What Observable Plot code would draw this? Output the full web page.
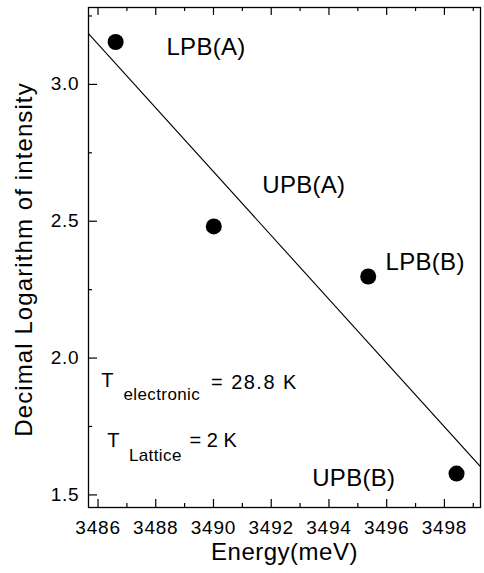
<!DOCTYPE html>
<html>
<head>
<meta charset="utf-8">
<script src="https://cdn.jsdelivr.net/npm/d3@7"></script>
<script src="https://cdn.jsdelivr.net/npm/@observablehq/plot@0.6"></script>
<style>
  html, body { margin: 0; padding: 0; background: #fff; overflow: hidden; }
  svg text { font-family: "Liberation Sans", Arial, sans-serif; }
  g[aria-label="x-axis tick label"] text, g[aria-label="y-axis tick label"] text { letter-spacing: 0.8px; }
  g[aria-description="x-title"] text { letter-spacing: 0.5px; }
  g[aria-description="y-title"] text { letter-spacing: 1.1px; }
  g[aria-description="peak-label"] text { letter-spacing: 0.3px; }
  g[aria-description="temp-value-1"] text { letter-spacing: 1.5px; }
  g[aria-description="temp-subscript"] text { letter-spacing: 0.4px; }
</style>
</head>
<body>
<div id="chart"></div>
<script>
// ---- data ----
const energy = [3486.61, 3490.01, 3495.36, 3498.42];
const logIntensity = [3.155, 2.481, 2.298, 1.578];
const peakNames = ["LPB(A)", "UPB(A)", "LPB(B)", "UPB(B)"];
const peakLabelX = [3488.37, 3491.69, 3495.96, 3493.42];
const peakLabelY = [3.136, 2.632, 2.350, 1.560];

const xTicksMajor = [3486, 3488, 3490, 3492, 3494, 3496, 3498];
const xTicksMinor = [3487, 3489, 3491, 3493, 3495, 3497, 3499];
const yTicksMajor = [1.5, 2.0, 2.5, 3.0];
const yTicksMinor = [1.75, 2.25, 2.75, 3.25];
const xDomain = [3485.67, 3499.25];
const yDomain = [1.454, 3.281];

const xLabel = "Energy(meV)";
const yLabel = "Decimal Logarithm of intensity";

const tempSymbol = ["T", "T"];
const tempSymbolX = [3486.11, 3486.32];
const tempSymbolY = [1.919, 1.698];
const tempSubscripts = ["electronic", "Lattice"];
const tempSubX = [3486.88, 3487.07];
const tempSubY = [1.865, 1.643];
const tempValues = ["= 28.8 K", "= 2 K"];
const tempValX = [3489.91, 3489.17];
const tempValY = [1.912, 1.698];

// ---- derived ----
const points = energy.map((e, i) => ({e, v: logIntensity[i], name: peakNames[i]}));
const mx = d3.mean(energy), my = d3.mean(logIntensity);
const slope = d3.sum(energy, (e, i) => (e - mx) * (logIntensity[i] - my)) /
              d3.sum(energy, e => (e - mx) ** 2);
const fit = xDomain.map(e => ({e, v: my + slope * (e - mx)}));

const peakLabels = peakNames.map((t, i) => ({t, x: peakLabelX[i], y: peakLabelY[i]}));
const sym = tempSymbol.map((t, i) => ({t, x: tempSymbolX[i], y: tempSymbolY[i]}));
const subs = tempSubscripts.map((t, i) => ({t, x: tempSubX[i], y: tempSubY[i]}));
const vals = tempValues.map((t, i) => ({t, x: tempValX[i], y: tempValY[i]}));

const W = 484, H = 573, mL = 88, mR = 4, mT = 7, mB = 66;
const innerW = W - mL - mR, innerH = H - mT - mB;
const ink = "#000";

const chart = Plot.plot({
  width: W, height: H,
  marginLeft: mL, marginRight: mR, marginTop: mT, marginBottom: mB,
  x: {domain: xDomain},
  y: {domain: yDomain},
  style: {background: "#fff", color: ink, fontFamily: "Liberation Sans, Arial, sans-serif"},
  marks: [
    Plot.frame({stroke: ink, strokeWidth: 1.3}),
    Plot.tickX(xTicksMajor, {x: d => d, insetTop: innerH - 8, stroke: ink, strokeWidth: 1.2}),
    Plot.tickX(xTicksMinor, {x: d => d, insetTop: innerH - 4, stroke: ink, strokeWidth: 1.2}),
    Plot.tickX(xTicksMajor, {x: d => d, insetBottom: innerH - 8, stroke: ink, strokeWidth: 1.2}),
    Plot.tickX(xTicksMinor, {x: d => d, insetBottom: innerH - 4, stroke: ink, strokeWidth: 1.2}),
    Plot.tickY(yTicksMajor, {y: d => d, insetRight: innerW - 9, stroke: ink, strokeWidth: 1.2}),
    Plot.tickY(yTicksMinor, {y: d => d, insetRight: innerW - 4, stroke: ink, strokeWidth: 1.2}),
    Plot.axisX({ticks: xTicksMajor, tickSize: 0, tickPadding: 13, fontSize: 19,
                tickFormat: d => String(d), label: null}),
    Plot.axisY({ticks: yTicksMajor, tickSize: 0, tickPadding: 9, fontSize: 19,
                tickFormat: d3.format(".1f"), label: null}),
    Plot.text([xLabel], {frameAnchor: "bottom", dy: 52, fontSize: 24, text: d => d,
                         textAnchor: "middle", ariaDescription: "x-title"}),
    Plot.text([yLabel], {frameAnchor: "left", dx: -64, dy: 2, rotate: -90, fontSize: 24,
                         textAnchor: "middle", text: d => d, ariaDescription: "y-title"}),
    Plot.line(fit, {x: "e", y: "v", stroke: ink, strokeWidth: 1.1, clip: true}),
    Plot.dot(points, {x: "e", y: "v", r: 8, fill: ink}),
    Plot.text(peakLabels, {x: "x", y: "y", text: "t", textAnchor: "start", fontSize: 24,
                           ariaDescription: "peak-label"}),
    Plot.text(sym, {x: "x", y: "y", text: "t", textAnchor: "start", fontSize: 20}),
    Plot.text(subs, {x: "x", y: "y", text: "t", textAnchor: "start", fontSize: 17,
                     ariaDescription: "temp-subscript"}),
    Plot.text(vals.slice(0, 1), {x: "x", y: "y", text: "t", textAnchor: "start", fontSize: 20,
                     ariaDescription: "temp-value-1"}),
    Plot.text(vals.slice(1), {x: "x", y: "y", text: "t", textAnchor: "start", fontSize: 20,
                     ariaDescription: "temp-value-2"})
  ]
});
document.getElementById("chart").appendChild(chart);
</script>
</body>
</html>
